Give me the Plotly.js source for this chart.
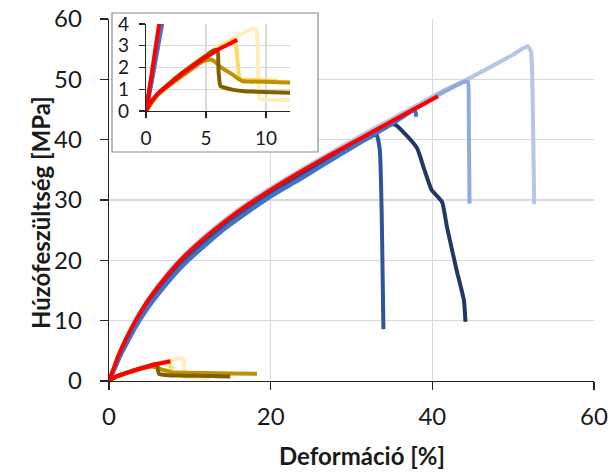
<!DOCTYPE html>
<html>
<head>
<meta charset="utf-8">
<script src="https://cdn.plot.ly/plotly-3.0.1.min.js"></script>
<style>html,body{margin:0;padding:0;background:#fff;}#chart{width:611px;height:473px;}</style>
</head>
<body>
<div id="chart"></div>
<script>
// ---- Data (strain %, stress MPa) ----
var xTitle = "Deformáció [%]";
var yTitle = "Húzófeszültség [MPa]";
var mainXTicks = [0, 20, 40, 60];
var mainYTicks = [0, 10, 20, 30, 40, 50, 60];
var insetXTicks = [0, 5, 10];
var insetYTicks = [0, 1, 2, 3, 4];

// blue specimens
var lightBlueX = [0, 0.5, 1.1, 2, 3.2, 4.5, 6, 8.5, 10, 12, 14.5, 17.5, 20.5, 23.6, 27, 30, 33, 36, 38.5, 41, 44.3, 47, 50, 51.3, 51.8, 52.2, 52.4, 52.6];
var lightBlueY = [0, 1.7, 3.9, 6.7, 9.9, 12.8, 15.7, 19.8, 21.8, 24.2, 26.9, 29.8, 32.4, 34.9, 37.5, 39.8, 42.0, 44.2, 46.0, 47.9, 50.0, 51.9, 54.1, 55.2, 55.5, 54.6, 48.0, 29.3];

var midLightBlueX = [0, 0.5, 1.1, 2, 3.2, 4.5, 6, 8.5, 10, 12, 14.5, 17.5, 20.5, 23.6, 27, 30, 33, 36, 38.5, 41, 44.0, 44.4, 44.5, 44.6];
var midLightBlueY = [0, 1.6, 3.7, 6.5, 9.6, 12.4, 15.2, 19.2, 21.2, 23.6, 26.4, 29.3, 31.9, 34.4, 37.0, 39.3, 41.6, 43.8, 45.6, 47.6, 49.6, 49.6, 45.0, 29.4];

var navyX = [0, 0.5, 1.2, 2, 3.2, 4.5, 6, 8.5, 10, 12, 14.5, 17.5, 20.5, 23.6, 27, 30, 33, 34.8, 35.4, 36.3, 38.1, 38.9, 39.9, 41.2, 41.8, 43.0, 43.9, 44.1];
var navyY = [0, 1.6, 3.8, 6.4, 9.4, 12.2, 14.9, 18.9, 20.9, 23.3, 26.1, 29.0, 31.6, 34.0, 36.7, 39.0, 41.3, 42.5, 42.5, 41.4, 38.6, 35.5, 31.7, 29.7, 25.6, 18.4, 13.4, 9.8];

var darkBlueX = [0, 0.5, 1.2, 2, 3.2, 4.5, 6, 8.5, 10, 12, 14.5, 17.5, 20.5, 23.6, 27, 30, 32.4, 33.1, 33.5, 33.75, 33.95];
var darkBlueY = [0, 1.6, 3.8, 6.2, 9.2, 12.0, 14.7, 18.6, 20.6, 23.0, 25.8, 28.7, 31.3, 33.7, 36.4, 38.8, 40.5, 40.8, 38.3, 26.7, 8.6];

var midBlueX = [0, 0.5, 1.35, 2, 3.2, 4.5, 6, 8.5, 10, 12, 14.5, 17.5, 20.5, 23.6, 27, 30, 33, 35.5, 37.6, 37.9, 38.0];
var midBlueY = [0, 1.4, 4.0, 5.7, 8.7, 11.5, 14.2, 18.2, 20.2, 22.6, 25.4, 28.3, 31.0, 33.4, 36.2, 38.6, 41.0, 43.0, 44.8, 44.7, 43.8];

// gold specimens (low-strength series)
var paleGoldX = [0, 0.5, 1, 2, 3, 4, 5, 6, 7, 8, 8.6, 8.94, 9.2, 9.35, 9.5, 10.5, 12.5];
var paleGoldY = [0, 0.45, 0.8, 1.3, 1.75, 2.2, 2.6, 2.95, 3.25, 3.55, 3.72, 3.8, 3.7, 2.0, 0.55, 0.52, 0.5];

var lightGoldX = [0, 0.5, 1, 2, 3, 4, 5, 6, 7, 7.3, 7.5, 7.85, 8.3, 9, 10, 11];
var lightGoldY = [0, 0.4, 0.75, 1.25, 1.7, 2.1, 2.5, 2.85, 3.2, 3.3, 3.0, 1.45, 1.43, 1.42, 1.4, 1.38];

var goldX = [0, 0.5, 1, 2, 3, 4, 4.5, 5, 5.4, 5.8, 6.2, 6.7, 7.3, 7.7, 8.0, 8.5, 10, 12, 15, 18.3];
var goldY = [0, 0.4, 0.75, 1.2, 1.6, 2.0, 2.2, 2.33, 2.37, 2.25, 2.03, 1.85, 1.64, 1.48, 1.38, 1.36, 1.34, 1.31, 1.25, 1.2];

var oliveX = [0, 0.5, 1, 2, 3, 4, 5, 5.6, 5.95, 6.05, 6.2, 6.5, 7.3, 8.2, 9.2, 10.5, 12, 13.5, 15];
var oliveY = [0, 0.45, 0.8, 1.3, 1.75, 2.15, 2.55, 2.78, 2.8, 1.8, 1.15, 1.08, 0.97, 0.91, 0.89, 0.86, 0.84, 0.8, 0.75];

// red reference curves
var redLowX = [0, 0.3, 1, 2, 3, 4, 5, 6, 7, 7.6];
var redLowY = [0, 0.35, 0.8, 1.25, 1.7, 2.1, 2.47, 2.82, 3.1, 3.28];

var redX = [0, 0.5, 1.1, 2, 3.2, 4.5, 6, 8.5, 10, 12, 14.5, 17.5, 20.5, 23.6, 27, 30, 33, 36, 38.5, 40.7];
var redY = [0, 1.8, 4.0, 6.7, 9.8, 12.7, 15.5, 19.5, 21.5, 23.9, 26.6, 29.5, 32.1, 34.6, 37.2, 39.4, 41.6, 43.8, 45.6, 47.2];

var series = [
  {x: lightBlueX, y: lightBlueY, c: "#b4c7e7"},
  {x: midLightBlueX, y: midLightBlueY, c: "#8faadc"},
  {x: navyX, y: navyY, c: "#203864"},
  {x: darkBlueX, y: darkBlueY, c: "#2f5597"},
  {x: midBlueX, y: midBlueY, c: "#4472c4"},
  {x: paleGoldX, y: paleGoldY, c: "#ffeebb"},
  {x: lightGoldX, y: lightGoldY, c: "#ffd966"},
  {x: goldX, y: goldY, c: "#bf9000"},
  {x: oliveX, y: oliveY, c: "#7f6000"},
  {x: redLowX, y: redLowY, c: "#ff0000"},
  {x: redX, y: redY, c: "#ff0000"}
];

var traces = [];
series.forEach(function (s) {
  traces.push({x: s.x, y: s.y, xaxis: "x", yaxis: "y", type: "scatter", mode: "lines",
    line: {color: s.c, width: 4, shape: "spline", smoothing: 0.5}, hoverinfo: "skip", showlegend: false});
});
// empty trace that creates the white inset box panel
traces.push({x: [null], y: [null], xaxis: "x2", yaxis: "y2", type: "scatter", mode: "lines", hoverinfo: "skip", showlegend: false});
series.forEach(function (s) {
  traces.push({x: s.x, y: s.y, xaxis: "x3", yaxis: "y3", type: "scatter", mode: "lines",
    line: {color: s.c, width: 4, shape: "spline", smoothing: 0.5}, hoverinfo: "skip", showlegend: false});
});

var FONT = "Lato, 'Open Sans', sans-serif";
var grid = "#d9d9d9";
var axisCol = "#262626";

var layout = {
  width: 611, height: 473,
  margin: {l: 109, r: 17, t: 10, b: 92, pad: 0},
  paper_bgcolor: "#ffffff", plot_bgcolor: "#ffffff",
  showlegend: false,
  font: {family: FONT, color: "#1a1a1a"},
  xaxis: {domain: [0, 1], range: [0, 60], tickvals: mainXTicks, ticktext: mainXTicks.map(String),
    showgrid: true, gridcolor: grid, gridwidth: 1.3, zeroline: false,
    showline: true, linecolor: axisCol, linewidth: 1.3, ticks: "outside", ticklen: 8, tickwidth: 1.3, tickcolor: axisCol,
    tickfont: {size: 24, family: FONT, color: "#1a1a1a"}, ticklabelstandoff: 6, fixedrange: true},
  yaxis: {domain: [0, 0.97574], range: [0, 60], tickvals: mainYTicks, ticktext: mainYTicks.map(String),
    showgrid: true, gridcolor: grid, gridwidth: 1.3, zeroline: false,
    showline: true, linecolor: axisCol, linewidth: 1.3, ticks: "outside", ticklen: 8, tickwidth: 1.3, tickcolor: axisCol,
    tickfont: {size: 24, family: FONT, color: "#1a1a1a"}, ticklabelstandoff: 13, fixedrange: true},
  xaxis2: {domain: [0.00619, 0.43093], range: [0, 1], visible: false, anchor: "y2", fixedrange: true},
  yaxis2: {domain: [0.61725, 0.99191], range: [0, 1], visible: false, anchor: "x2", fixedrange: true},
  xaxis3: {domain: [0.07629, 0.37320], range: [0, 12], anchor: "y3", tickvals: insetXTicks, ticktext: insetXTicks.map(String),
    showgrid: true, gridcolor: grid, gridwidth: 1.2, zeroline: false,
    showline: true, linecolor: axisCol, linewidth: 1.2, ticks: "outside", ticklen: 6, tickwidth: 1.2, tickcolor: axisCol,
    tickfont: {size: 19, family: FONT, color: "#1a1a1a"}, ticklabelstandoff: 4, fixedrange: true},
  yaxis3: {domain: [0.72776, 0.96226], range: [0, 4], anchor: "x3", tickvals: insetYTicks, ticktext: insetYTicks.map(String),
    showgrid: true, gridcolor: grid, gridwidth: 1.2, zeroline: false,
    showline: true, linecolor: axisCol, linewidth: 1.2, ticks: "outside", ticklen: 6, tickwidth: 1.2, tickcolor: axisCol,
    tickfont: {size: 19, family: FONT, color: "#1a1a1a"}, ticklabelstandoff: 6, fixedrange: true},
  shapes: [
    {type: "rect", xref: "paper", yref: "paper", x0: 0.00619, x1: 0.43093, y0: 0.61725, y1: 0.99191,
     line: {color: "#8c8c8c", width: 1.2}, fillcolor: "rgba(0,0,0,0)", layer: "above"}
  ],
  annotations: [
    {text: "<b>" + xTitle + "</b>", xref: "paper", yref: "paper", x: (362 - 109) / 485, y: (381 - 455) / 371,
     xanchor: "center", yanchor: "middle", showarrow: false, font: {size: 24, family: FONT, color: "#1a1a1a"}},
    {text: "<b>" + yTitle + "</b>", xref: "paper", yref: "paper", x: (40 - 109) / 485, y: (381 - 213) / 371,
     xanchor: "center", yanchor: "middle", textangle: -90, showarrow: false, font: {size: 24, family: FONT, color: "#1a1a1a"}}
  ]
};

Plotly.newPlot("chart", traces, layout, {displayModeBar: false, staticPlot: true});
</script>
</body>
</html>
